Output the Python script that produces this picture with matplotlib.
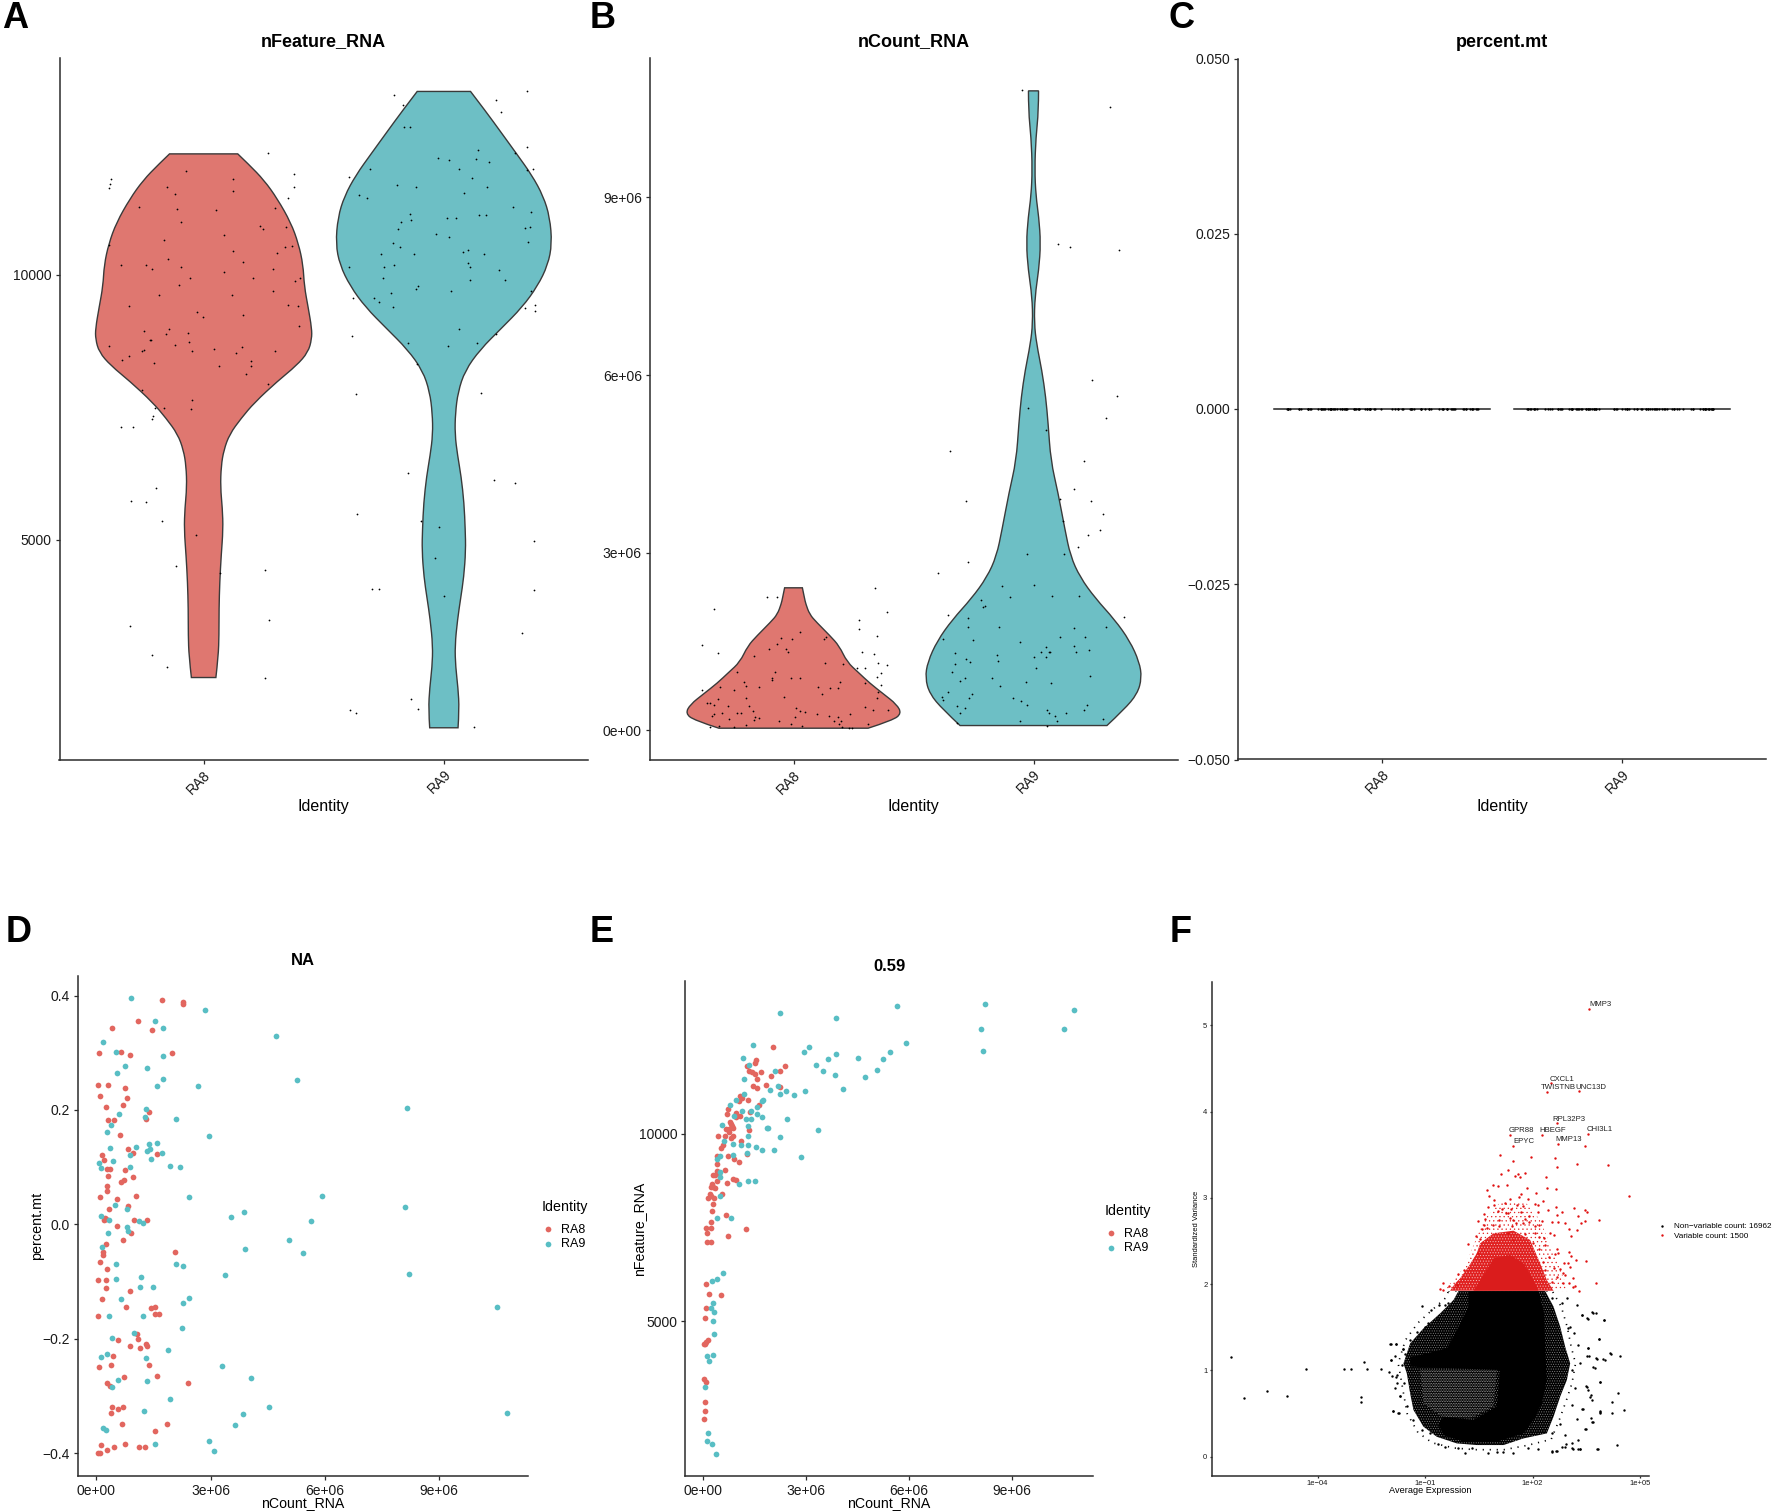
import numpy as np
import matplotlib
matplotlib.use("Agg")
from matplotlib import pyplot as plt
from matplotlib.path import Path
from matplotlib.patches import PathPatch, Polygon

plt.rcParams['font.family'] = ['Liberation Sans', 'DejaVu Sans']

W, H = 1772, 1512

groups = ["RA8", "RA9"]

# violin outlines, y value and half width in x units
vln_feat_ra8_y = [12285,12086,11786,11437,10988,10589,10190,9790,9391,8992,8792,8543,8293,7994,7595,7295,6996,6697,6397,5998,5599,5200,4701,4202,3703,3204,2804,2405]
vln_feat_ra8_w = [.142,.188,.252,.307,.363,.395,.414,.419,.435,.45,.45,.435,.387,.307,.212,.156,.108,.084,.073,.070,.078,.081,.073,.067,.064,.064,.061,.051]
vln_feat_ra9_y = [13463,13084,12685,12285,11886,11487,11088,10589,10190,9790,9391,8992,8593,8194,7794,7395,6996,6597,6198,5699,5200,4800,4301,3902,3503,3004,2605,2206,1806,1457]
vln_feat_ra9_w = [.111,.175,.239,.303,.366,.414,.441,.45,.433,.39,.326,.239,.151,.088,.059,.048,.046,.057,.072,.084,.089,.091,.083,.07,.057,.046,.049,.059,.064,.059]
vln_count_ra8_y = [2.407,2.228,2.138,1.959,1.825,1.602,1.423,1.154,.975,.796,.617,.438,.286,.17,.036]
vln_count_ra8_w = [.037,.046,.051,.067,.096,.151,.191,.223,.271,.318,.374,.43,.45,.414,.311]
vln_count_ra9_y = [10.799,10.459,10.012,9.475,9.028,8.67,8.222,7.775,7.328,6.88,6.522,6.075,5.628,5.18,4.554,4.017,3.391,2.944,2.586,2.228,1.87,1.512,1.154,.886,.617,.349,.081]
vln_count_ra9_w = [.021,.021,.01,.005,.01,.022,.03,.022,.006,.003,.013,.035,.051,.061,.072,.102,.131,.154,.194,.258,.338,.401,.441,.451,.433,.377,.306]

# jittered cells in the violins
feat_ra8_jit = [-.384,-.39,-.393,-.072,.121,.269,.376,.377,.352,-.151,-.118,.121,-.268,-.11,.053,.299,-.094,.236,.248,.342,.086,-.167,-.393,.368,.338,.123,.306,-.15,.164,-.344,-.242,-.213,-.094,.29,.084,-.056,.204,.401,.381,-.102,.287,.118,-.186,-.309,.352,.392,-.029,.162,-.003,.396,-.146,-.247,-.158,-.064,-.223,-.218,-.061,-.118,.161,-.395,.043,-.25,-.255,-.048,.296,.134,-.309,-.339,.197,-.205,.197,.065,.178,.269,-.256,-.049,-.202,-.167,-.051,-.212,-.213,-.346,-.296,-.197,-.301,-.239,-.175,-.032,-.113,.068,.255,.271,-.307,-.217,-.154,.256]
feat_ra8_val = [11806,11717,11637,11966,11816,12295,11896,11667,11447,11667,11537,11577,11287,11238,11218,11267,11008,10918,10868,10898,10758,10659,10559,10549,10519,10449,10419,10299,10250,10190,10180,10120,10160,10110,10050,9940,9950,9950,9880,9810,9701,9631,9621,9421,9441,9421,9301,9251,9212,9032,8982,8952,8892,8902,8782,8772,8743,8683,8643,8663,8603,8593,8573,8573,8573,8533,8473,8403,8373,8343,8283,8283,8134,7944,7824,7635,7485,7495,7475,7345,7275,7126,7126,5988,5739,5719,5349,5090,4501,4381,4431,3483,3373,2834,2595,2405]
feat_ra9_jit = [-.207,.346,-.17,.218,.236,-.167,-.143,.143,.295,.346,-.024,.022,.134,.188,-.395,-.307,.061,.116,.347,.369,-.193,-.116,.18,.084,-.355,-.32,.288,.361,-.142,.145,.177,.011,.049,-.135,-.178,-.189,.338,.358,-.033,.022,-.21,.352,-.183,.1,.078,-.26,-.124,.166,.099,-.209,-.393,-.25,.11,.228,-.255,.253,.107,-.108,-.116,.03,-.221,.363,-.379,-.291,-.268,.381,-.212,.339,.381,.062,.218,-.384,-.148,.139,.019,-.113,-.366,.156,-.151,.207,.296,-.361,-.097,-.021,.374,-.035,-.299,-.268,.376,0,.326,-.137,-.392,-.108,-.366,.126]
feat_ra9_val = [13393,13473,13213,13293,13074,12784,12794,12365,12305,12415,12216,12176,12186,12126,11846,11996,12006,11836,11986,12006,11697,11667,11667,11547,11507,11447,11277,11188,11158,11138,11138,11068,11068,11038,11008,10868,10878,10908,10778,10709,10609,10619,10529,10479,10439,10389,10389,10389,10220,10190,10150,10150,10160,10090,9940,9910,9910,9800,9731,9701,9661,9691,9561,9561,9481,9431,9391,9381,9321,8982,8892,8852,8723,8723,8663,8313,7754,7764,6268,6128,6068,5489,5349,5240,4990,4651,4082,4072,4062,3942,3244,2006,1796,1806,1727,1467]

count_ra8_jit = [-.11,-.068,.339,-.333,.39,.272,.272,.025,.347,-.381,-.051,-.008,.129,.134,-.068,-.104,-.033,-.022,-.315,.287,-.166,.334,.131,.35,.207,.39,.266,.298,-.076,-.234,.363,-.091,-.088,-.011,.029,.347,-.207,.194,.296,.366,-.196,-.145,-.307,.1,.154,.185,-.25,-.382,.35,.119,-.04,-.199,-.315,.346,-.36,-.349,-.331,-.272,-.185,.296,.01,-.167,.027,.048,.333,.395,-.236,-.217,-.33,-.296,.099,.146,.237,-.341,.185,.005,-.161,-.142,-.268,-.166,-.061,.167,.199,.191,-.309,-.196,-.011,.309,-.349,-.247,.035,.204,.231,.245]
count_ra8_val = [2.26,2.26,2.41,2.05,2.00,1.86,1.71,1.66,1.59,1.44,1.56,1.55,1.54,1.58,1.46,1.37,1.37,1.32,1.30,1.32,1.26,1.29,1.14,1.14,1.12,1.10,1.06,1.05,.98,.98,.96,.89,.85,.89,.89,.90,.81,.82,.80,.76,.75,.73,.74,.73,.71,.71,.68,.68,.65,.62,.56,.55,.53,.55,.46,.46,.43,.41,.41,.39,.37,.32,.32,.31,.34,.35,.29,.29,.28,.29,.27,.25,.28,.25,.23,.23,.23,.21,.19,.17,.15,.15,.16,.11,.08,.09,.10,.10,.05,.05,.07,.05,.04,.04]
count_ra9_jit = [-.046,.318,.102,.151,.358,.242,.347,-.024,.303,.051,-.35,.21,.17,.111,.239,-.283,.29,.121,.279,.228,.185,-.029,.127,-.275,-.396,0,-.131,.075,-.097,.191,-.22,-.204,-.21,-.358,.379,-.275,-.271,-.145,.169,.304,.11,.215,-.379,-.252,-.057,.167,.053,.231,.032,.064,.07,-.328,.178,-.154,.003,.051,-.283,-.146,-.264,-.328,.01,-.338,.234,-.172,-.285,-.307,-.033,.072,-.141,-.358,-.258,-.382,-.379,-.086,-.268,-.053,-.029,.221,-.317,-.285,.21,.056,.064,.135,-.307,.088,.29,.099,-.056,-.318,.056]
count_ra9_val = [10.81,10.52,8.21,8.16,8.11,5.91,5.65,5.44,5.27,5.07,4.72,4.54,4.08,3.90,3.88,3.87,3.65,3.53,3.38,3.30,3.10,2.98,2.97,2.85,2.66,2.45,2.43,2.27,2.25,2.27,2.20,2.10,2.08,1.94,1.92,1.90,1.74,1.75,1.73,1.74,1.57,1.57,1.55,1.53,1.49,1.42,1.41,1.36,1.32,1.32,1.32,1.31,1.32,1.27,1.24,1.23,1.20,1.17,1.15,1.12,1.06,.98,.91,.89,.89,.83,.81,.80,.75,.64,.61,.57,.51,.54,.54,.50,.42,.43,.41,.38,.35,.34,.30,.30,.29,.24,.19,.16,.16,.13,.08]

# panel D, nCount (millions) against percent.mt
d_ra8_x = [1.71,2.26,2.26,1.10,.41,1.47,.07,.65,.89,1.99,.05,.30,.76,.10,.81,.69,.24,1.37,.31,.45,1.29,.61,.83,.96,.15,1.59,.19,.27,.36,.74,.31,.96,.73,.64,.29,.29,1.05,.10,.53,.82,.33,.23,.26,.21,.98,1.33,.55,.90,.71,.24,.16,.16,2.05,.10,.29,.04,.24,.24,.89,.14,.78,1.44,1.55,1.55,1.65,.04,1.06,1.09,.56,.88,1.15,1.30,1.33,.43,1.37,.37,.07,1.59,.72,.28,2.40,.35,.42,.56,.71,.39,.68,1.86,1.54,.11,.76,1.13,1.27,.46,.28,.04,.09]
d_ra8_y = [.393,.388,.385,.356,.343,.339,.300,.301,.296,.300,.243,.244,.238,.225,.220,.208,.205,.197,.183,.183,.185,.157,.131,.124,.121,.123,.112,.096,.096,.095,.085,.083,.077,.074,.067,.058,.050,.048,.044,.032,.027,.011,.010,.007,.007,.007,-.003,-.016,-.028,-.035,-.048,-.053,-.048,-.065,-.078,-.098,-.097,-.112,-.117,-.130,-.145,-.147,-.144,-.157,-.156,-.160,-.191,-.201,-.203,-.212,-.216,-.210,-.213,-.231,-.246,-.246,-.250,-.265,-.267,-.278,-.278,-.283,-.319,-.322,-.319,-.329,-.349,-.349,-.362,-.385,-.384,-.389,-.389,-.390,-.394,-.399,-.399]
d_ra9_x = [.91,2.85,1.55,1.74,4.72,.18,.51,1.74,.75,1.33,.54,1.76,5.26,1.59,2.66,1.31,8.15,.60,2.10,1.28,.39,.29,2.96,1.58,1.37,1.05,.35,1.41,1.33,1.73,.89,1.43,.43,.08,.13,.89,1.92,2.20,2.44,5.91,.50,.81,8.10,.13,3.52,3.87,.33,1.11,1.21,5.63,.79,.83,.30,.15,5.06,3.89,5.43,.52,2.08,2.27,3.37,8.21,1.18,.51,1.15,1.49,.64,2.42,2.27,10.51,.32,1.21,2.25,.98,.40,1.89,.28,.13,1.31,3.30,4.07,.57,1.32,.42,1.94,4.53,1.25,3.85,10.79,3.64,.16,.25,1.53,2.96,3.09]
d_ra9_y = [.395,.374,.355,.343,.330,.319,.301,.294,.277,.273,.265,.254,.252,.242,.241,.202,.203,.192,.185,.187,.174,.162,.154,.143,.140,.135,.134,.131,.129,.125,.121,.115,.110,.108,.099,.101,.102,.101,.047,.049,.034,.026,.031,.014,.013,.022,.007,.006,.002,.006,-.004,-.011,-.015,-.040,-.028,-.043,-.051,-.070,-.069,-.073,-.089,-.086,-.092,-.096,-.110,-.109,-.130,-.128,-.137,-.145,-.160,-.160,-.182,-.190,-.199,-.220,-.227,-.232,-.234,-.248,-.268,-.273,-.274,-.285,-.306,-.320,-.326,-.331,-.329,-.350,-.356,-.360,-.384,-.378,-.397]

# panel E, nCount (millions) against nFeature
e_ra8_x = [2.04,1.55,1.53,1.30,2.40,1.35,1.43,1.53,1.70,2.26,1.99,1.59,1.46,1.86,1.59,2.26,1.10,1.15,1.32,1.07,1.65,.73,.71,.97,1.37,.96,1.10,.79,.82,.87,.69,.77,.90,1.36,.76,.46,.65,.82,.88,1.13,.60,.55,1.28,.43,.75,.91,1.06,.41,.65,.41,.30,.37,.48,.42,.89,.98,.28,.31,.26,.36,.72,.57,.21,.26,.33,.17,.30,.29,.69,.24,.11,.26,1.26,.14,.73,.14,.24,.11,.19,.55,.10,.07,.17,.11,.06,.04,.03,.09,.06,.06,.03]
e_ra8_y = [12294,11962,11891,11801,11811,11660,11630,11579,11650,11670,11539,11449,11278,11288,11217,11237,11006,10936,10905,10865,10755,10654,10523,10553,10573,10433,10463,10302,10251,10211,10131,10131,10161,10101,10040,9940,9930,9879,9950,9799,9688,9628,9447,9417,9417,9316,9256,9205,9034,8994,8903,8893,8934,8742,8793,8773,8652,8582,8571,8541,8692,8390,8400,8350,8280,8280,8129,7948,7837,7646,7495,7495,7475,7354,7274,7123,7123,5996,5735,5714,5352,5101,4517,4457,4407,4387,3481,3381,2847,2606,2415]
e_ra9_x = [2.26,3.89,5.64,8.21,10.80,8.10,10.52,5.91,1.48,3.09,8.15,2.96,3.88,1.18,3.64,4.53,5.26,5.44,3.30,1.36,2.11,3.51,5.06,3.86,4.72,1.20,2.20,4.07,1.95,2.42,2.97,2.26,1.22,2.66,.97,1.75,1.72,.80,1.58,1.15,1.42,1.59,.93,1.74,1.27,1.40,2.45,.58,1.31,1.88,1.91,3.37,.63,1.32,2.26,.89,1.11,1.32,1.55,1.74,2.08,1.30,2.85,.89,.52,.41,.51,.52,1.06,1.32,1.52,.50,.42,.82,.60,.43,.28,.30,.24,.33,.30,.33,.31,.14,.18,.08,.16,.12,.29,.39]
e_ra9_y = [13219,13078,13390,13461,13290,12777,12797,12424,12364,12294,12203,12173,12123,12002,11992,12002,11992,12163,11841,11841,11660,11670,11690,11549,11499,11449,11278,11197,11157,11137,11137,11066,11056,11016,10885,10895,10875,10775,10714,10614,10604,10533,10483,10443,10392,10392,10392,10221,10191,10161,10151,10091,9799,9940,9909,9728,9708,9688,9658,9567,9557,9497,9376,9437,9396,9336,8984,8853,8662,8732,8732,8340,7767,7767,6278,6137,6067,5493,5352,5242,5000,4658,4095,4075,3954,3260,2033,1811,1741,1479]

# panel F, x is log10 of average expression. Only the readable points are listed,
# the packed centre of the cloud is kept as filled outlines below
hvg_genes = ["MMP3","CXCL1","TWISTNB","UNC13D","RPL32P3","GPR88","HBEGF","CHI3L1","EPYC","MMP13"]
hvg_x = [3.586,2.514,2.396,3.296,2.686,1.357,2.257,3.543,1.443,2.707]
hvg_y = [5.196,4.330,4.232,4.236,3.864,3.734,3.734,3.746,3.607,3.627]
red_x = [3.457,1.105,1.970,2.640,1.468,3.235,4.100,2.686,1.319,1.133,1.793,1.607,1.524,1.645,2.389,.891,1.030,1.300,1.840,2.417,2.659,.733,2.110,.789,1.682,1.635,4.687,1.375,1.886,.928,1.235,2.305,2.082,.919,.751,1.579,1.747,2.165,2.649,3.170,1.142,1.403,2.426,3.477,3.524,1.040,1.672,2.165,2.817,1.272,1.319,.658,2.696,3.282,1.375,1.914,1.784,3.859,.472,.686,1.058,1.468,2.277,2.724,2.538,2.919,3.468,3.347,1.914,1.747,.658,.910,1.077,1.421,1.542,2.072,2.175,.584,.742,3.012,3.235,2.500,2.603,3.077,.417,1.310,1.793,2.072,2.184,2.324,.537,.203,1.468,2.026,2.352,2.677,2.193,3.012,3.087,.491,2.724,2.631,3.217,3.487,2.454,3.003,2.891,3.059,2.286,2.603,2.770,2.352,.091,-.067,2.845,2.910,2.677,3.124,3.775,3.012,2.863,2.556,-.579,-.486,-.328,-.504,-.104,3.189,3.142,3.309]
red_y = [3.603,3.494,3.471,3.467,3.425,3.394,3.386,3.355,3.328,3.281,3.285,3.274,3.258,3.247,3.247,3.154,3.138,3.150,3.111,3.111,3.104,3.088,3.061,3.022,3.042,3.015,3.022,2.988,2.984,2.972,2.945,2.964,2.930,2.918,2.899,2.918,2.906,2.918,2.895,2.883,2.872,2.872,2.864,2.860,2.841,2.844,2.841,2.833,2.833,2.821,2.821,2.814,2.802,2.794,2.767,2.786,2.759,2.748,2.736,2.752,2.744,2.744,2.736,2.721,2.717,2.713,2.732,2.709,2.721,2.705,2.682,2.682,2.674,2.674,2.705,2.674,2.682,2.640,2.647,2.640,2.632,2.593,2.570,2.558,2.558,2.589,2.582,2.589,2.543,2.531,2.520,2.469,2.512,2.473,2.454,2.411,2.404,2.369,2.326,2.357,2.357,2.350,2.280,2.268,2.319,2.249,2.249,2.203,2.253,2.183,2.172,2.164,2.164,2.117,2.133,2.106,2.087,2.071,2.013,2.017,2.017,2.029,1.943,2.017,1.982,1.932,1.986,1.978,1.963,1.924]
black_x = [-1.072,-.606,-.346,-.439,-.830,-.923,-.625,-.997,-1.230,-1.416,-1.602,-1.807,-1.955,-1.834,-1.955,-1.648,-1.788,-1.816,-1.583,-1.834,-1.695,-1.509,-1.900,-1.741,-1.323,-1.090,-.858,-.625,-.439,-.067,.119,.305,.770,1.003,1.189,1.468,1.887,2.166,2.538,2.678,2.910,2.817,3.096,3.282,3.329,3.096,3.282,3.822,3.468,3.654,3.887,3.375,3.236,2.910,2.538,2.771,3.096,3.608,3.515,3.887,3.189,3.096,3.329,3.701,3.775,3.980,3.589,3.561,3.868,3.282,3.050,3.515,3.701,3.998,3.375,3.254,2.957,2.817,2.538,3.143,3.003,4.166,-6.41,-6.04,-5.41,-4.84,-4.31,-3.27,-3.07,-2.71,-2.62,-2.23,-2.80,-2.79,-1.99,-1.80,-1.95,-2.01,-1.92,-1.90,-1.75,-1.69,-1.79,-1.61,-1.56,3.67,3.76,3.37,3.54,3.99,3.86,3.56,4.18,4.44,3.80,4.01,3.53,3.73,3.89,3.49,3.56,4.39,3.62,3.67,4.23,3.89,3.89,4.21,4.56,3.40,3.62,3.69,3.48,4.37,3.81,3.32,3.14,2.92,2.65,2.55]
black_y = [1.750,1.754,1.785,1.758,1.700,1.545,1.584,1.507,1.449,1.352,1.248,1.306,1.306,1.170,1.120,1.062,.946,.919,.849,.791,.702,.586,.528,.501,.424,.308,.269,.145,.107,.095,.045,.095,.045,.057,.057,.045,.095,.087,.057,.068,.115,.115,.153,.192,.087,.095,.087,.087,.316,.404,.521,.548,.435,.250,.269,.377,.598,.695,.811,.869,.791,1.004,1.081,1.035,1.139,1.128,1.166,1.255,1.364,1.294,1.507,1.603,1.669,1.584,1.642,1.758,1.835,1.777,1.835,1.429,1.487,1.197,1.152,.682,.756,.707,1.013,1.017,1.021,1.095,1.013,1.021,.690,.637,1.307,1.307,1.115,.980,.940,.531,.502,.703,.858,1.246,1.185,1.675,1.663,1.646,1.593,1.585,1.364,1.254,1.193,1.164,1.132,1.123,1.164,1.033,.870,.817,.776,.743,.715,.654,.629,.531,.511,.511,.539,.551,.449,.400,.315,.135,.090,.090,.090,.143,.069,.061]

# outlines of the packed parts of the cloud (log10 x, y)
black_fringe = [(-.35,1.92),(2.55,1.92),(2.8,1.74),(2.97,1.5),(3.08,1.27),(3.2,1.08),(3.1,.85),(2.95,.66),(2.75,.43),(2.52,.2),(1.85,.13),(1.2,.08),(.4,.08),(-.2,.1),(-.8,.16),(-1.2,.28),(-1.5,.5),(-1.6,.73),(-1.7,.97),(-1.75,1.08),(-1.55,1.35),(-1.2,1.55),(-.75,1.72),(-.4,1.85)]
black_outer = [(-.067,1.92),(2.352,1.92),(2.585,1.739),(2.771,1.507),(2.910,1.275),(3.050,1.081),(2.957,.888),(2.771,.695),(2.585,.463),(2.398,.269),(1.747,.211),(1.189,.134),(.445,.134),(-.113,.153),(-.672,.230),(-1.044,.347),(-1.323,.540),(-1.416,.733),(-1.509,.965),(-1.602,1.081),(-1.416,1.313),(-1.044,1.487),(-.579,1.661),(-.206,1.816)]
black_core = [(.212,1.92),(2.166,1.92),(2.324,1.661),(2.352,1.275),(2.398,.888),(2.259,.617),(2.026,.424),(1.747,.269),(1.003,.173),(.073,.173),(-.486,.250),(-.625,.366),(-.486,.463),(.352,.424),(1.003,.579),(1.096,1.004),(-1.416,1.043),(-1.416,1.151),(-.392,1.255),(-.113,1.468),(.212,1.739)]
black_thin = [(-1.137,1.004),(1.003,1.004),(.910,.579),(.259,.443),(-.532,.463),(-1.044,.617)]
red_fringe = [(-.5,1.92),(3.0,1.92),(2.75,2.2),(2.45,2.5),(2.2,2.75),(1.8,2.95),(1.1,2.95),(.65,2.75),(.35,2.45),(.1,2.2),(-.2,2.05)]
red_outer = [(-.021,2.067),(.212,2.203),(.444,2.357),(.537,2.473),(.910,2.589),(1.468,2.620),(1.933,2.512),(2.212,2.241),(2.398,2.048),(2.584,1.924),(-.300,1.924),(-.160,2.009)]
red_core = [(.351,1.924),(.723,2.164),(.910,2.299),(1.375,2.338),(1.747,2.241),(2.026,2.048),(2.165,1.924)]

RED_FILL = '#DF7770'
TEAL_FILL = '#6DBFC5'
RED_DOT = '#E2665F'
TEAL_DOT = '#58BEC4'
DARK = '#2b2b2b'


def make_axes(fig, left, top, right, bottom):
    ax = fig.add_axes([left/W, 1-bottom/H, (right-left)/W, (bottom-top)/H])
    ax.spines['top'].set_visible(False)
    ax.spines['right'].set_visible(False)
    ax.spines['left'].set_linewidth(1.1)
    ax.spines['bottom'].set_linewidth(1.1)
    ax.spines['left'].set_color(DARK)
    ax.spines['bottom'].set_color(DARK)
    ax.tick_params(length=3, width=0.9, color=DARK, labelsize=10, labelcolor='#1a1a1a', pad=2.5)
    return ax


def draw_violin(ax, center, ys, half, color):
    right = [(center+w, y) for w, y in zip(half, ys)]
    left = [(center-w, y) for w, y in zip(half, ys)][::-1]
    verts = [(center-half[0], ys[0]), right[0]]
    codes = [Path.MOVETO, Path.LINETO]
    for side in (right, left):
        for i in range(1, len(side)-1):
            nxt = side[i+1] if i == len(side)-2 else ((side[i][0]+side[i+1][0])/2, (side[i][1]+side[i+1][1])/2)
            verts += [side[i], nxt]
            codes += [Path.CURVE3, Path.CURVE3]
        if side is right:
            verts.append(left[0])
            codes.append(Path.LINETO)
    verts.append(verts[0])
    codes.append(Path.CLOSEPOLY)
    ax.add_patch(PathPatch(Path(verts, codes), facecolor=color, edgecolor='#3a3a3a', linewidth=1.0, zorder=2))


def violin_frame(ax, title):
    ax.set_xlim(0.4, 2.6)
    ax.set_xticks([1, 2])
    ax.set_xticklabels(groups, rotation=45, ha='right', rotation_mode='anchor', fontsize=10)
    ax.set_xlabel("Identity", fontsize=11.5, labelpad=2)
    ax.set_title(title, fontsize=13, fontweight='bold', pad=8.5)


def add_legend(ax, fig, x, y):
    leg = ax.legend(title="Identity", frameon=False, loc='upper left', bbox_to_anchor=(x/W, 1-y/H),
                    bbox_transform=fig.transFigure, borderaxespad=0, borderpad=0, fontsize=9,
                    title_fontsize=10.3, handlelength=1.0, handletextpad=0.5, labelspacing=0.22)
    leg._legend_box.align = 'left'
    leg._legend_box.sep = 7


def cloud_patch(ax, outline, face, hatch=None, edge='none', zorder=1, **kw):
    pts = np.array(outline)
    xy = np.column_stack([10.0**pts[:, 0], pts[:, 1]])
    ax.add_patch(Polygon(xy, closed=True, facecolor=face, edgecolor=edge, hatch=hatch, zorder=zorder, **kw))


fig = plt.figure(figsize=(W/100, H/100), dpi=100)

# A
ax = make_axes(fig, 59.5, 58, 588, 760)
draw_violin(ax, 1, vln_feat_ra8_y, vln_feat_ra8_w, RED_FILL)
draw_violin(ax, 2, vln_feat_ra9_y, vln_feat_ra9_w, TEAL_FILL)
ax.scatter(1+np.array(feat_ra8_jit), feat_ra8_val, s=1.6, c='black', linewidths=0, zorder=3)
ax.scatter(2+np.array(feat_ra9_jit), feat_ra9_val, s=1.6, c='black', linewidths=0, zorder=3)
ax.set_ylim(849, 14094)
ax.set_yticks([5000, 10000])
violin_frame(ax, "nFeature_RNA")

# B
ax = make_axes(fig, 649.5, 58, 1177.5, 760)
draw_violin(ax, 1, np.array(vln_count_ra8_y)*1e6, vln_count_ra8_w, RED_FILL)
draw_violin(ax, 2, np.array(vln_count_ra9_y)*1e6, vln_count_ra9_w, TEAL_FILL)
ax.scatter(1+np.array(count_ra8_jit), np.array(count_ra8_val)*1e6, s=1.6, c='black', linewidths=0, zorder=3)
ax.scatter(2+np.array(count_ra9_jit), np.array(count_ra9_val)*1e6, s=1.6, c='black', linewidths=0, zorder=3)
ax.set_ylim(-0.501e6, 11.354e6)
ax.set_yticks([0, 3e6, 6e6, 9e6])
ax.set_yticklabels(["0e+00", "3e+06", "6e+06", "9e+06"])
violin_frame(ax, "nCount_RNA")

# C, every cell is 0 so the violins fall flat
ax = make_axes(fig, 1238, 58.5, 1766, 759.5)
ax.plot([0.55, 1.45], [0, 0], color='#222222', lw=1.1, zorder=2)
ax.plot([1.55, 2.45], [0, 0], color='#222222', lw=1.1, zorder=2)
ax.scatter(1+np.array(feat_ra8_jit), np.zeros(len(feat_ra8_jit)), s=2.5, c='black', linewidths=0, zorder=3)
ax.scatter(2+np.array(feat_ra9_jit), np.zeros(len(feat_ra9_jit)), s=2.5, c='black', linewidths=0, zorder=3)
ax.set_ylim(-0.05, 0.05)
ax.set_yticks([-0.05, -0.025, 0, 0.025, 0.05])
ax.set_yticklabels(["\u22120.050", "\u22120.025", "0.000", "0.025", "0.050"])
violin_frame(ax, "percent.mt")

# D
ax = make_axes(fig, 77.7, 975.5, 528, 1476)
ax.scatter(np.array(d_ra8_x)*1e6, d_ra8_y, s=17, c=RED_DOT, linewidths=0, label=groups[0])
ax.scatter(np.array(d_ra9_x)*1e6, d_ra9_y, s=17, c=TEAL_DOT, linewidths=0, label=groups[1])
ax.set_xlim(-0.492e6, 11.33e6)
ax.set_ylim(-0.44, 0.435)
ax.set_xticks([0, 3e6, 6e6, 9e6])
ax.set_xticklabels(["0e+00", "3e+06", "6e+06", "9e+06"])
ax.set_yticks([-0.4, -0.2, 0, 0.2, 0.4])
ax.set_yticklabels(["\u22120.4", "\u22120.2", "0.0", "0.2", "0.4"])
ax.set_xlabel("nCount_RNA", fontsize=10.2, labelpad=-1.5)
ax.set_ylabel("percent.mt", fontsize=10.4, labelpad=-1)
ax.set_title("NA", fontsize=12, fontweight='bold', pad=7.5)
add_legend(ax, fig, 542, 1200)

# E
ax = make_axes(fig, 685.3, 981, 1093, 1476)
ax.scatter(np.array(e_ra8_x)*1e6, e_ra8_y, s=17, c=RED_DOT, linewidths=0, label=groups[0])
ax.scatter(np.array(e_ra9_x)*1e6, e_ra9_y, s=17, c=TEAL_DOT, linewidths=0, label=groups[1])
ax.set_xlim(-0.5e6, 11.35e6)
ax.set_ylim(886, 14064)
ax.set_xticks([0, 3e6, 6e6, 9e6])
ax.set_xticklabels(["0e+00", "3e+06", "6e+06", "9e+06"])
ax.set_yticks([5000, 10000])
ax.set_xlabel("nCount_RNA", fontsize=10.2, labelpad=-1.5)
ax.set_ylabel("nFeature_RNA", fontsize=10.2, labelpad=-5)
ax.set_title("0.59", fontsize=12, fontweight='bold', pad=7)
add_legend(ax, fig, 1105, 1204)

# F
ax = make_axes(fig, 1211.5, 981.8, 1649, 1476)
ax.set_xscale('log')
plt.rcParams['hatch.linewidth'] = 0.4
cloud_patch(ax, black_fringe, 'none', edge='black', linewidth=1.2, linestyle=(0, (0.7, 3.5)))
cloud_patch(ax, black_outer, 'black', hatch='.......', edge='#8a8a8a', linewidth=0)
cloud_patch(ax, black_thin, 'black', hatch='..........', edge='#c8c8c8', linewidth=0)
cloud_patch(ax, black_core, 'black', linewidth=0)
cloud_patch(ax, red_fringe, 'white', hatch='....', edge='#E22424', linewidth=0)
cloud_patch(ax, red_outer, '#E02020', hatch='......', edge='#F6C0C0', linewidth=0)
cloud_patch(ax, red_core, '#DA1C1C', linewidth=0)
ax.scatter(10.0**np.array(black_x), black_y, s=3, c='black', linewidths=0, label="Non\u2212variable count: 16962", zorder=2)
ax.scatter(10.0**np.array(red_x + hvg_x), red_y + hvg_y, s=3, c='#E01010', linewidths=0, label="Variable count: 1500", zorder=2)
label_dx = [0, -1, -6, -4, -5, -1, -2, -1.5, 0.4, -2.3]
for g, gx, gy, dx in zip(hvg_genes, hvg_x, hvg_y, label_dx):
    ax.annotate(g, (10.0**gx, gy), xytext=(dx*0.72, 2.9), textcoords='offset points', fontsize=5.6,
                va='center', ha='left', color='#222222')
ax.set_xlim(10.0**-6.96, 10.0**5.25)
ax.set_ylim(-0.225, 5.506)
ax.set_xticks([1e-4, 1e-1, 1e2, 1e5])
ax.set_xticklabels(["1e\u221204", "1e\u221201", "1e+02", "1e+05"])
ax.minorticks_off()
ax.tick_params(labelsize=5.5, length=1.5, pad=1.5)
ax.set_xlabel("Average Expression", fontsize=6.6, labelpad=-1)
ax.set_ylabel("Standardized Variance", fontsize=5.4, labelpad=2)
ax.legend(frameon=False, loc='center left', bbox_to_anchor=(1654/W, 1-1231/H), bbox_transform=fig.transFigure,
          borderaxespad=0, borderpad=0, fontsize=5.9, handletextpad=0.5, labelspacing=0.2, markerscale=1)

# panel letters
for letter, lx, ly in [("A", 2, 19), ("B", 590, 19), ("C", 1168, 19), ("D", 6, 932), ("E", 590, 932), ("F", 1170, 932)]:
    fig.text(lx/W, 1-ly/H, letter, fontsize=26, fontweight='bold', va='center', ha='left', color='black')

fig.savefig("out.png", dpi=100)
